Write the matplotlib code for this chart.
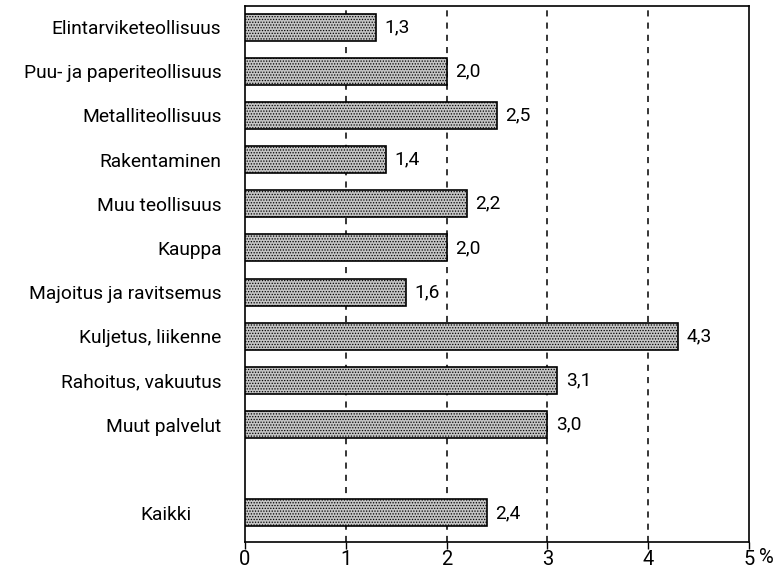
import matplotlib
matplotlib.use("Agg")
import matplotlib.pyplot as plt
from matplotlib import font_manager as fm
import matplotlib.transforms as mt

categories = ["Elintarviketeollisuus", "Puu- ja paperiteollisuus", "Metalliteollisuus",
              "Rakentaminen", "Muu teollisuus", "Kauppa", "Majoitus ja ravitsemus",
              "Kuljetus, liikenne", "Rahoitus, vakuutus", "Muut palvelut", "Kaikki"]
values = [1.3, 2.0, 2.5, 1.4, 2.2, 2.0, 1.6, 4.3, 3.1, 3.0, 2.4]
positions = [0, 1, 2, 3, 4, 5, 6, 7, 8, 9, 11]
xticks = [0, 1, 2, 3, 4, 5]

plt.rcParams["font.family"] = ["Roboto", "DejaVu Sans"]
plt.rcParams["hatch.color"] = "#8a8a8a"
plt.rcParams["hatch.linewidth"] = 0.6

fs = 13.8

fig = plt.figure(figsize=(7.77, 5.70), dpi=100)
ax = fig.add_axes([245/777, 1-542/570, (749-245)/777, (542-6)/570])

ax.barh(positions, values, height=0.61, color="#c4c4c4", edgecolor="black",
        linewidth=1.2, hatch="......", zorder=3)
for p, v in zip(positions, values):
    ax.annotate(f"{v:.1f}".replace(".", ","), (v, p), xytext=(6, 0),
                textcoords="offset points", va="center", ha="left", fontsize=fs)

for x in [1, 2, 3, 4]:
    ax.axvline(x, color="black", linestyle=(0, (4, 4)), linewidth=1.1, zorder=1)

ax.set_xlim(0, 5)
ax.set_ylim(11.66, -0.48)
ax.set_yticks(positions)
ax.set_yticklabels(categories, fontsize=fs)
ax.tick_params(axis="y", length=0, pad=17)
ax.set_xticks(xticks)
ax.set_xticklabels([str(t) for t in xticks], fontsize=14.5)
ax.tick_params(axis="x", length=5, width=1, direction="out", pad=1)
lbls = ax.get_yticklabels()
lbls[-1].set_transform(lbls[-1].get_transform() + mt.ScaledTranslation(-0.3, 0, fig.dpi_scale_trans))
ax.text(5.1, -0.011, "%", transform=ax.get_xaxis_transform(), ha="left", va="top", fontsize=14.5)
for s in ax.spines.values():
    s.set_linewidth(1.2)

fig.savefig("out.png", dpi=100)
